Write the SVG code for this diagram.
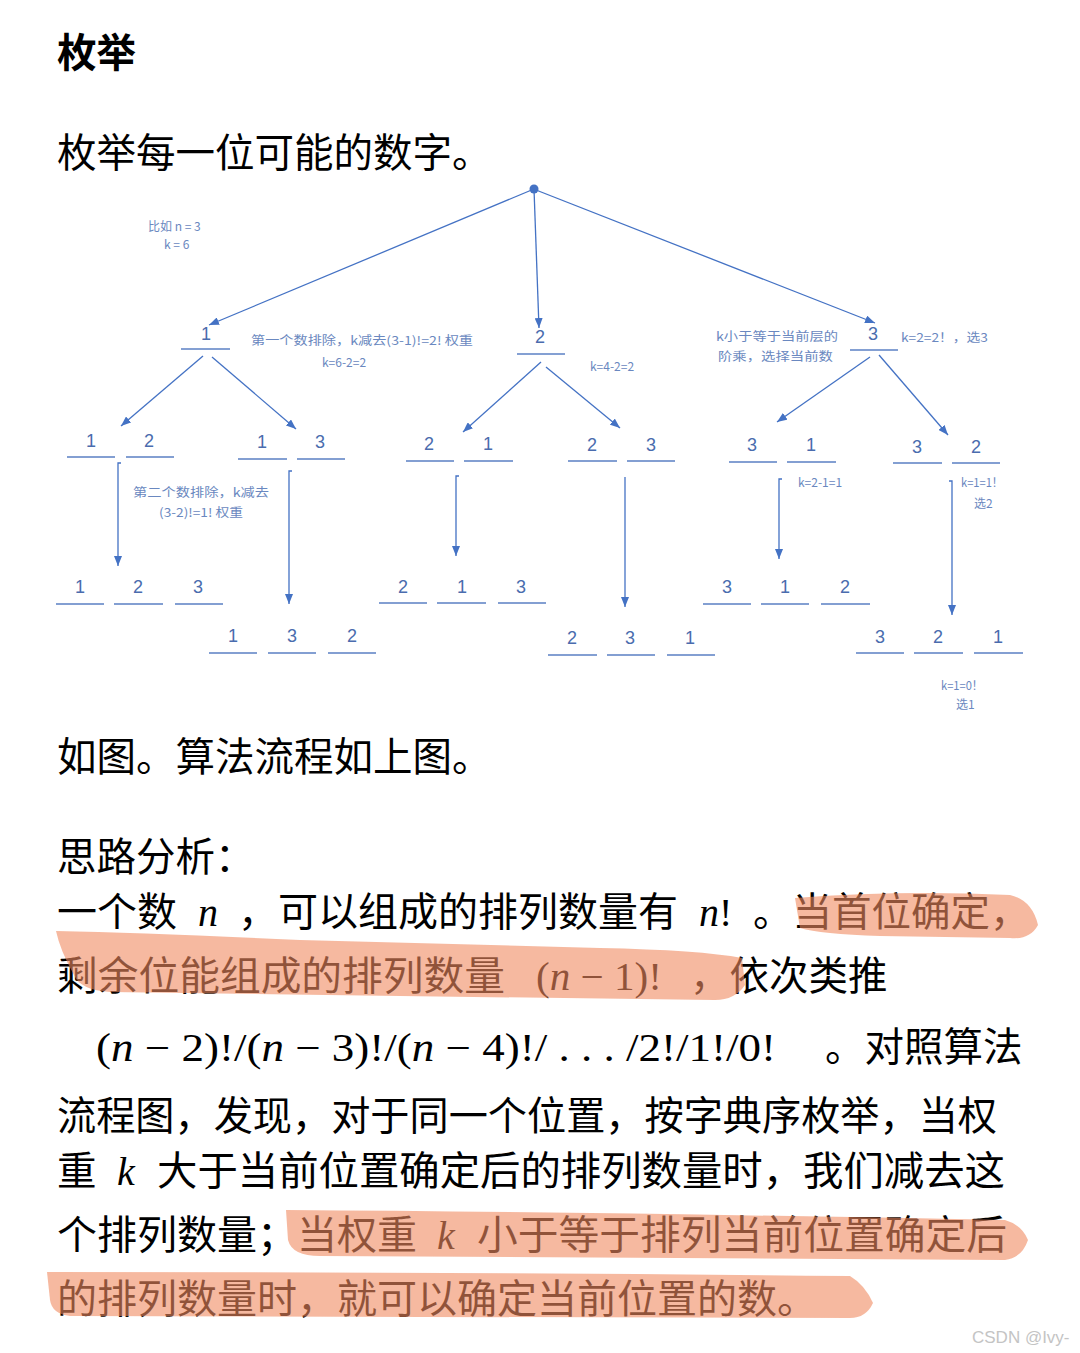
<svg xmlns="http://www.w3.org/2000/svg" width="1080" height="1353" viewBox="0 0 1080 1353">
<style>
.t{font-family:"Noto Sans CJK SC","Noto Sans",sans-serif;fill:#000;font-size:39.5px}
.b{font-weight:bold}
.m{font-family:"Liberation Serif","DejaVu Serif",serif;fill:#000;font-size:40px}
.i{font-style:italic}
.d{font-family:"Liberation Sans","Noto Sans",sans-serif;font-size:18px;fill:#4a6cae;text-anchor:middle}
.l{font-family:"Noto Sans CJK SC","Liberation Sans",sans-serif;font-size:12px;fill:#6a88c0}
.u{stroke:#5b80c4;stroke-width:1.4;fill:none}
.c{stroke:#4472C4;stroke-width:1.3;fill:none}
.hl{fill:#F08A60;opacity:0.6}
</style>
<defs>
<marker id="ah" markerWidth="10" markerHeight="8" refX="10" refY="4" orient="auto" markerUnits="userSpaceOnUse">
<path d="M0,0 L10,4 L0,8 Z" fill="#4472C4"/>
</marker>
</defs>
<rect width="1080" height="1353" fill="#fff"/>

<text class="t b" x="57" y="67">枚举</text>
<text class="t" x="57" y="167">枚举每一位可能的数字。</text>

<circle cx="534" cy="189" r="4.5" fill="#4472C4"/>

<g id="connectors">
<line class="c" x1="534" y1="189" x2="209" y2="325" marker-end="url(#ah)"/>
<line class="c" x1="534" y1="189" x2="539" y2="328" marker-end="url(#ah)"/>
<line class="c" x1="536" y1="190" x2="875" y2="323" marker-end="url(#ah)"/>
<line class="c" x1="203" y1="356" x2="121" y2="426" marker-end="url(#ah)"/>
<line class="c" x1="212" y1="357" x2="296" y2="429" marker-end="url(#ah)"/>
<line class="c" x1="541" y1="362" x2="463" y2="432" marker-end="url(#ah)"/>
<line class="c" x1="546" y1="367" x2="620" y2="428" marker-end="url(#ah)"/>
<line class="c" x1="870" y1="357" x2="777" y2="422" marker-end="url(#ah)"/>
<line class="c" x1="879" y1="355" x2="948" y2="435" marker-end="url(#ah)"/>
<path class="c" d="M121,463 H118 V566" marker-end="url(#ah)"/>
<path class="c" d="M292,471 H289 V604" marker-end="url(#ah)"/>
<path class="c" d="M459,476 H456 V556" marker-end="url(#ah)"/>
<line class="c" x1="625" y1="477" x2="625" y2="607" marker-end="url(#ah)"/>
<path class="c" d="M782,479 H779 V559" marker-end="url(#ah)"/>
<path class="c" d="M949,481 H952 V615" marker-end="url(#ah)"/>
</g>

<g id="n1"><text class="d" x="206" y="340">1</text><line class="u" x1="181" y1="349" x2="230" y2="349"/></g>
<g id="n2"><text class="d" x="540" y="343">2</text><line class="u" x1="517" y1="354" x2="565" y2="354"/></g>
<g id="n3"><text class="d" x="873" y="340">3</text><line class="u" x1="850" y1="350" x2="898" y2="350"/></g>

<g id="n12"><text class="d" x="91" y="447">1</text><text class="d" x="149" y="447">2</text><path class="u" d="M67,457H115M126,457H174"/></g>
<g id="n13"><text class="d" x="262" y="448">1</text><text class="d" x="320" y="448">3</text><path class="u" d="M238,459H287M297,459H345"/></g>
<g id="n21"><text class="d" x="429" y="450">2</text><text class="d" x="488" y="450">1</text><path class="u" d="M406,461H454M464,461H513"/></g>
<g id="n23"><text class="d" x="592" y="451">2</text><text class="d" x="651" y="451">3</text><path class="u" d="M568,461H617M627,461H675"/></g>
<g id="n31"><text class="d" x="752" y="451">3</text><text class="d" x="811" y="451">1</text><path class="u" d="M729,462H777M787,462H836"/></g>
<g id="n32"><text class="d" x="917" y="453">3</text><text class="d" x="976" y="453">2</text><path class="u" d="M893,463H942M952,463H1000"/></g>

<g id="n123"><text class="d" x="80" y="593">1</text><text class="d" x="138" y="593">2</text><text class="d" x="198" y="593">3</text><path class="u" d="M56,604H104M114,604H163M175,604H223"/></g>
<g id="n132"><text class="d" x="233" y="642">1</text><text class="d" x="292" y="642">3</text><text class="d" x="352" y="642">2</text><path class="u" d="M209,653H257M268,653H316M328,653H376"/></g>
<g id="n213"><text class="d" x="403" y="593">2</text><text class="d" x="462" y="593">1</text><text class="d" x="521" y="593">3</text><path class="u" d="M379,603H427M437,603H486M498,603H546"/></g>
<g id="n231"><text class="d" x="572" y="644">2</text><text class="d" x="630" y="644">3</text><text class="d" x="690" y="644">1</text><path class="u" d="M548,655H597M607,655H655M667,655H715"/></g>
<g id="n312"><text class="d" x="727" y="593">3</text><text class="d" x="785" y="593">1</text><text class="d" x="845" y="593">2</text><path class="u" d="M703,604H751M761,604H809M821,604H870"/></g>
<g id="n321"><text class="d" x="880" y="643">3</text><text class="d" x="938" y="643">2</text><text class="d" x="998" y="643">1</text><path class="u" d="M856,653H904M914,653H963M974,653H1023"/></g>

<g id="labels">
<text class="l" x="148" y="231">比如 n = 3</text>
<text class="l" x="164" y="249">k = 6</text>
<text class="l" x="251" y="345" textLength="222" lengthAdjust="spacingAndGlyphs">第一个数排除，k减去(3-1)!=2! 权重</text>
<text class="l" x="322" y="367">k=6-2=2</text>
<text class="l" x="590" y="371">k=4-2=2</text>
<text class="l" x="716" y="341" textLength="122" lengthAdjust="spacingAndGlyphs">k小于等于当前层的</text>
<text class="l" x="718" y="361" textLength="115" lengthAdjust="spacingAndGlyphs">阶乘，选择当前数</text>
<text class="l" x="901" y="342" textLength="87" lengthAdjust="spacingAndGlyphs">k=2=2！，选3</text>
<text class="l" x="133" y="497" textLength="136" lengthAdjust="spacingAndGlyphs">第二个数排除，k减去</text>
<text class="l" x="159" y="517" textLength="84" lengthAdjust="spacingAndGlyphs">(3-2)!=1! 权重</text>
<text class="l" x="798" y="487">k=2-1=1</text>
<text class="l" x="961" y="487" textLength="42" lengthAdjust="spacingAndGlyphs">k=1=1！</text>
<text class="l" x="974" y="508">选2</text>
<text class="l" x="941" y="690" textLength="42" lengthAdjust="spacingAndGlyphs">k=1=0！</text>
<text class="l" x="956" y="709">选1</text>
</g>

<text class="t" x="57" y="771">如图。算法流程如上图。</text>
<text class="t" x="57" y="871">思路分析：</text>

<text class="t" x="57" y="926" textLength="120" lengthAdjust="spacingAndGlyphs">一个数</text>
<text class="m i" x="198" y="926">n</text>
<text class="t" x="238" y="926" textLength="440" lengthAdjust="spacingAndGlyphs">，可以组成的排列数量有</text>
<text class="m" x="699" y="926"><tspan class="i">n</tspan>!</text>
<text class="t" x="753" y="926">。当首位确定，</text>

<text class="t" x="57" y="990" textLength="448" lengthAdjust="spacingAndGlyphs">剩余位能组成的排列数量</text>
<text class="m" x="536" y="990" textLength="126" lengthAdjust="spacingAndGlyphs">(<tspan class="i">n</tspan> − 1)!</text>
<text class="t" x="690" y="990">，依次类推</text>

<text class="m" x="96" y="1061" textLength="680" lengthAdjust="spacingAndGlyphs">(<tspan class="i">n</tspan> − 2)!/(<tspan class="i">n</tspan> − 3)!/(<tspan class="i">n</tspan> − 4)!/ . . . /2!/1!/0!</text>
<text class="t" x="825" y="1061">。对照算法</text>

<text class="t" x="57" y="1130" textLength="940" lengthAdjust="spacingAndGlyphs">流程图，发现，对于同一个位置，按字典序枚举，当权</text>

<text class="t" x="57" y="1185">重</text>
<text class="m i" x="117" y="1185">k</text>
<text class="t" x="157" y="1185" textLength="848" lengthAdjust="spacingAndGlyphs">大于当前位置确定后的排列数量时，我们减去这</text>

<text class="t" x="57" y="1249" textLength="360" lengthAdjust="spacingAndGlyphs">个排列数量；当权重</text>
<text class="m i" x="437" y="1249">k</text>
<text class="t" x="477" y="1249" textLength="530" lengthAdjust="spacingAndGlyphs">小于等于排列当前位置确定后</text>

<text class="t" x="57" y="1313" textLength="760" lengthAdjust="spacingAndGlyphs">的排列数量时，就可以确定当前位置的数。</text>

<g id="highlights">
<path class="hl" d="M795,898 Q900,890 1010,895 Q1032,900 1038,925 Q1030,940 1010,938 L880,936 Q820,934 800,928 Z"/>
<path class="hl" d="M56,931 Q150,933 300,940 L600,948 Q700,950 742,958 L745,985 Q735,1000 715,1000 L400,996 L110,992 Q80,990 74,975 Q60,950 56,931 Z"/>
<path class="hl" d="M286,1210 Q600,1212 1005,1220 Q1022,1225 1028,1240 Q1022,1258 1005,1260 L320,1256 Q292,1256 288,1240 Z"/>
<path class="hl" d="M47,1272 Q450,1272 850,1276 Q865,1285 873,1303 Q866,1318 850,1318 L70,1316 Q52,1314 50,1300 Z"/>
</g>

<text x="972" y="1343" font-family="Liberation Sans,sans-serif" font-size="17" fill="#c4c4c4">CSDN @Ivy-</text>
</svg>
